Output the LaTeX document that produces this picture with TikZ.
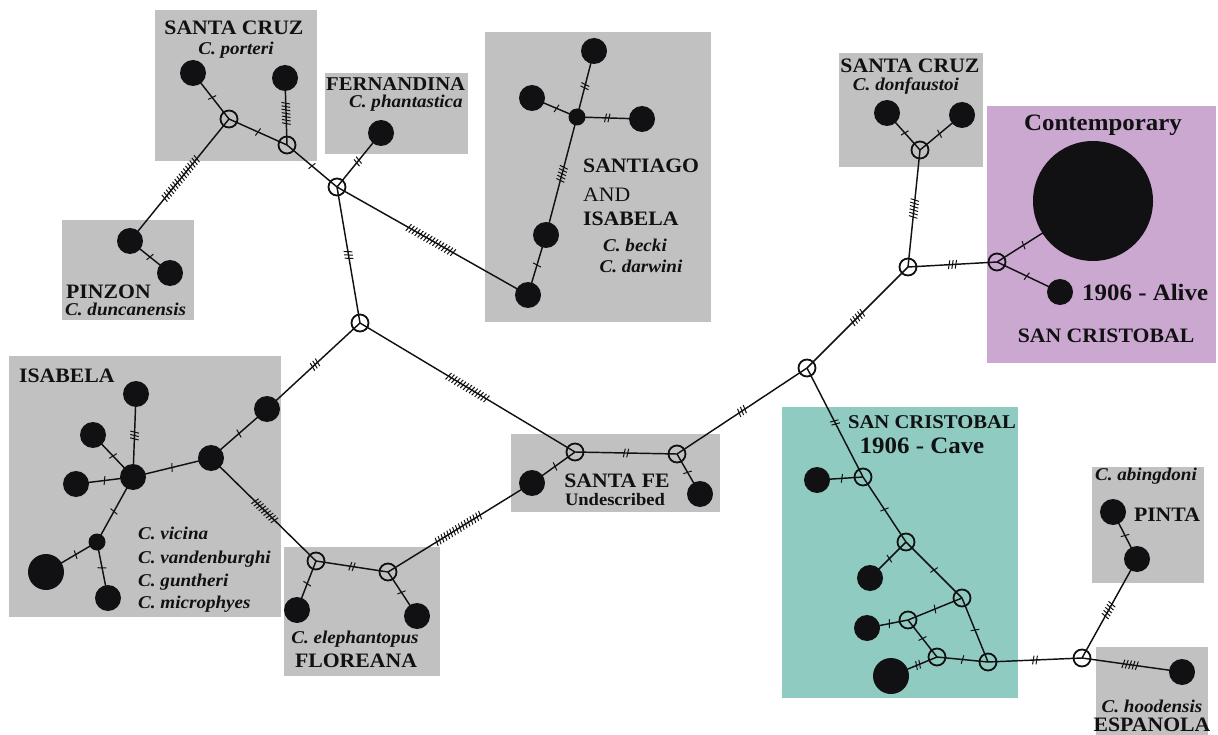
\documentclass[tikz,border=0pt]{standalone}
\usepackage{fontspec}
\setmainfont{Liberation Serif}[FakeStretch=1.06]
\usetikzlibrary{decorations.markings}
\pgfdeclarelayer{back}
\pgfdeclarelayer{mid}
\pgfsetlayers{back,mid,main}
\definecolor{boxgray}{RGB}{193,193,193}
\definecolor{lilac}{RGB}{203,168,208}
\definecolor{tealbox}{RGB}{143,203,192}
\definecolor{ink}{RGB}{17,17,20}
\newcommand\E[3]{\draw[lnk] (#1.center) -- (#2.center); \path[tk=#3] (#1) -- (#2);}
\begin{document}
\begin{tikzpicture}[x=1pt,y=-1pt,
  fn/.style={circle,fill=ink,inner sep=0,minimum size=26pt},
  fsm/.style={fn,minimum size=17pt},
  fbg/.style={fn,minimum size=36pt},
  fhuge/.style={fn,minimum size=120pt},
  hn/.style={circle,draw=ink,line width=1.8pt,inner sep=0,minimum size=17pt},
  lnk/.style={draw=ink,line width=1.45pt},
  tk/.style={postaction={decorate,decoration={markings,mark=at position 0.5 with {\foreach \k in {1,...,#1}{\draw[ink,line width=1pt] ({(\k-(#1+1)/2)*3.4pt-0.9pt},-4.3pt) -- ({(\k-(#1+1)/2)*3.4pt+0.9pt},4.3pt);}}}}},
  lab/.style={font=\bfseries\fontsize{20.5pt}{22pt}\selectfont,inner sep=0,text=ink},
  lablg/.style={font=\bfseries\fontsize{23.5pt}{25pt}\selectfont,inner sep=0,text=ink},
  spc/.style={font=\bfseries\itshape\fontsize{18pt}{20pt}\selectfont,inner sep=0,text=ink}]
\useasboundingbox (0,0) rectangle (1218,735);
% boxes
\begin{pgfonlayer}{back}
\fill[white] (0,0) rectangle (1218,735);
\fill[boxgray] (155,10) rectangle (317,161);
\fill[boxgray] (325,73) rectangle (468,154);
\fill[boxgray] (62,220) rectangle (194,320);
\fill[boxgray] (485,32) rectangle (711,322);
\fill[boxgray] (839,53) rectangle (983,167);
\fill[boxgray] (9,356) rectangle (281,617);
\fill[boxgray] (284,547) rectangle (440,676);
\fill[boxgray] (511,434) rectangle (720,512);
\fill[boxgray] (1092,467) rectangle (1204,583);
\fill[boxgray] (1096,647) rectangle (1208,735);
\fill[lilac] (987,106) rectangle (1216,363);
\fill[tealbox] (782,407) rectangle (1018,698);
\end{pgfonlayer}
% nodes
\node[fn] (p1) at (193,73) {};
\node[fn] (p2) at (285,78) {};
\node[hn] (h1) at (229,119) {};
\node[hn] (h2) at (287,145) {};
\node[hn] (h3) at (337,187) {};
\node[fn] (fe) at (381,133) {};
\node[fn] (pa) at (130,241) {};
\node[fn] (pb) at (170,273) {};
\node[hn] (h4) at (360,323) {};
\node[fn] (sa) at (594,51) {};
\node[fn] (sb) at (532,98) {};
\node[fsm] (sc) at (577,117) {};
\node[fn] (sd) at (642,119) {};
\node[fn] (se) at (546,235) {};
\node[fn] (sf) at (528,295) {};
\node[fn] (ia) at (136,394) {};
\node[fn] (ib) at (93,435) {};
\node[fn] (ic) at (76,484) {};
\node[fn] (id) at (133,477) {};
\node[fn] (ie) at (211,458) {};
\node[fn] (ig) at (267,409) {};
\node[fsm] (ih) at (97,542) {};
\node[fbg] (ii) at (46,572) {};
\node[fn] (ij) at (108,598) {};
\node[hn] (l1) at (316,561) {};
\node[hn] (l2) at (388,572) {};
\node[fn] (la) at (297,610) {};
\node[fn] (lb) at (417,616) {};
\node[hn] (f1) at (575,452) {};
\node[hn] (f2) at (677,454) {};
\node[fn] (fa) at (532,483) {};
\node[fn] (fb) at (700,494) {};
\node[hn] (h7) at (807,368) {};
\node[hn] (h5) at (908,267) {};
\node[hn] (dh) at (920,150) {};
\node[fn] (d1) at (887,113) {};
\node[fn] (d2) at (962,115) {};
\node[hn] (h6) at (997,262) {};
\node[fhuge] (big) at (1093,201) {};
\node[fn] (al) at (1060,292) {};
\node[hn] (c1) at (863,477) {};
\node[fn] (ca) at (817,480) {};
\node[hn] (c2) at (906,542) {};
\node[fn] (cb) at (870,578) {};
\node[hn] (c3) at (962,598) {};
\node[hn] (c4) at (908,620) {};
\node[fn] (cc) at (867,628) {};
\node[hn] (c5) at (937,657) {};
\node[hn] (c6) at (988,662) {};
\node[fbg] (cd) at (891,676) {};
\node[hn] (e) at (1082,658) {};
\node[fn] (pl) at (1137,559) {};
\node[fn] (pu) at (1113,512) {};
\node[fn] (es) at (1182,672) {};
% edges
\begin{pgfonlayer}{mid}
\E{p1}{h1}{1} \E{p2}{h2}{7} \E{h1}{h2}{1} \E{h2}{h3}{1} \E{h3}{fe}{2}
\E{h1}{pa}{16} \E{pa}{pb}{1} \E{h3}{h4}{3} \E{h3}{sf}{16} \E{h4}{ig}{3} \E{h4}{f1}{14}
\E{sa}{sc}{2} \E{sb}{sc}{1} \E{sd}{sc}{2} \E{sc}{se}{5} \E{se}{sf}{1}
\E{ia}{id}{3} \E{ib}{id}{1} \E{ic}{id}{1} \E{id}{ie}{1} \E{ie}{ig}{1} \E{id}{ih}{1} \E{ih}{ii}{1} \E{ih}{ij}{1} \E{ie}{l1}{9}
\E{l1}{l2}{2} \E{l1}{la}{1} \E{l2}{lb}{1} \E{l2}{fa}{16} \E{f1}{f2}{2} \E{f1}{fa}{1} \E{f2}{fb}{1} \E{f2}{h7}{3}
\E{h7}{h5}{5} \E{h5}{dh}{6} \E{dh}{d1}{1} \E{dh}{d2}{1} \E{h5}{h6}{3} \E{h6}{big}{1} \E{h6}{al}{1}
\E{h7}{c1}{2} \E{c1}{ca}{1} \E{c1}{c2}{1} \E{c2}{cb}{1} \E{c2}{c3}{1} \E{c3}{c4}{1} \E{c4}{cc}{1} \E{c4}{c5}{1} \E{c3}{c6}{1} \E{c5}{c6}{1} \E{c5}{cd}{2} \E{c6}{e}{2} \E{e}{pl}{5} \E{pl}{pu}{1} \E{e}{es}{5}
\end{pgfonlayer}
% labels
\node[lab,anchor=base] (tsc1) at (234,35) {SANTA CRUZ};
\node[spc,anchor=base] (tsc1s) at (236,55) {C. porteri};
\node[lab,font=\bfseries\fontsize{19.5pt}{21pt}\selectfont,anchor=base west] (tfe) at (326,91) {FERNANDINA};
\node[spc,anchor=base west] (tfes) at (349,108) {C. phantastica};
\node[lab,anchor=base west] (tpi) at (66,299) {PINZON};
\node[spc,anchor=base west] (tpis) at (65,316) {C. duncanensis};
\node[lab,anchor=base west] (tsa) at (583,173) {SANTIAGO};
\node[font=\fontsize{20.5pt}{22pt}\selectfont,inner sep=0,text=ink,anchor=base west] (tand) at (583,202) {AND};
\node[lab,anchor=base west] (tis2) at (583,226) {ISABELA};
\node[spc,anchor=base] (tbe) at (635,252) {C. becki};
\node[spc,anchor=base] (tda) at (641,273) {C. darwini};
\node[lab,anchor=base] (tsc2) at (910,73) {SANTA CRUZ};
\node[spc,anchor=base] (tsc2s) at (906,91) {C. donfaustoi};
\node[lablg,anchor=base] (tco) at (1103,131) {Contemporary};
\node[lablg,anchor=base west] (tal) at (1082,301) {1906 - Alive};
\node[lab,anchor=base] (tscp) at (1106,342) {SAN CRISTOBAL};
\node[lab,anchor=base west] (tis) at (19,382) {ISABELA};
\node[spc,anchor=base west] (tv1) at (138,539) {C. vicina};
\node[spc,anchor=base west] (tv2) at (138,563) {C. vandenburghi};
\node[spc,anchor=base west] (tv3) at (138,586) {C. guntheri};
\node[spc,anchor=base west] (tv4) at (138,608) {C. microphyes};
\node[lab,anchor=base] (tsf) at (617,487) {SANTA FE};
\node[lab,font=\bfseries\fontsize{17.5pt}{19pt}\selectfont,anchor=base] (tun) at (615,505) {Undescribed};
\node[spc,anchor=base] (tel) at (355,643) {C. elephantopus};
\node[lab,anchor=base] (tfl) at (356,667) {FLOREANA};
\node[lab,font=\bfseries\fontsize{19.5pt}{21pt}\selectfont,anchor=base] (tscc) at (932,428) {SAN CRISTOBAL};
\node[lablg,anchor=base] (tca) at (922,453) {1906 - Cave};
\node[spc,anchor=base] (tab) at (1146,480) {C. abingdoni};
\node[lab,anchor=base] (tpn) at (1167,521) {PINTA};
\node[spc,anchor=base] (tho) at (1152,712) {C. hoodensis};
\node[lab,anchor=base] (tes) at (1152,731) {ESPANOLA};
\end{tikzpicture}
\end{document}
